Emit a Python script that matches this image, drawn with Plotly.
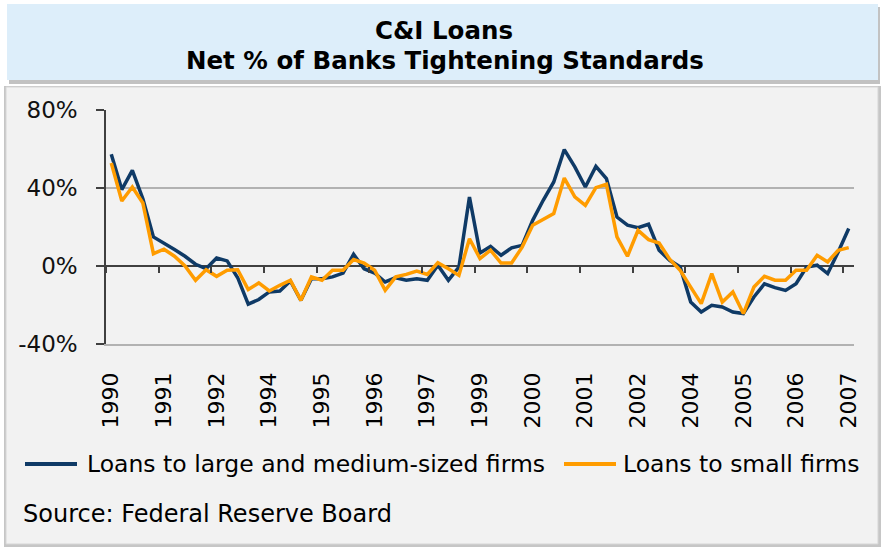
import plotly.graph_objects as go

# ---- data (quarterly survey readings, net % tightening) ----
large_firms = [57.3, 39.2, 49.0, 34.5, 14.9, 11.8, 8.4, 5.0, 0.9, -1.4,
               4.1, 2.6, -6.0, -19.6, -17.2, -13.3, -12.8, -7.7, -17.6, -6.5,
               -6.5, -5.6, -3.6, 6.0, -1.4, -3.6, -8.2, -6.0, -7.3, -6.5,
               -7.3, 0.4, -7.3, -0.5, 35.4, 6.7, 10.0, 5.5, 9.3, 10.6,
               23.4, 33.7, 43.1, 59.7, 50.8, 40.5, 51.1, 44.8, 25.1, 20.9,
               19.7, 21.4, 8.1, 2.9, -0.5, -18.5, -23.6, -20.2, -21.0, -23.6,
               -24.4, -15.9, -9.1, -11.1, -12.5, -9.1, -0.5, 0.4, -3.9, 7.2,
               19.2]
small_firms = [52.8, 33.3, 40.5, 32.3, 6.3, 8.6, 5.0, 0.0, -7.3, -1.9,
               -5.3, -2.2, -1.9, -12.1, -8.7, -12.8, -9.9, -7.3, -17.6, -5.6,
               -7.3, -2.2, -2.2, 3.3, 1.5, -2.2, -12.5, -5.6, -4.3, -2.6,
               -4.3, 1.7, -1.4, -4.8, 14.0, 3.8, 8.1, 1.5, 1.5, 9.7,
               20.9, 23.8, 26.9, 45.1, 35.4, 31.1, 40.2, 41.9, 14.9, 5.0,
               18.3, 13.5, 11.8, 3.5, -2.2, -10.8, -19.3, -3.9, -18.5, -13.3,
               -24.4, -10.8, -5.3, -7.3, -7.3, -2.2, -2.2, 5.5, 2.1, 8.1,
               9.4]
periods = list(range(len(large_firms)))
tick_labels = ["1990", "1991", "1992", "1994", "1995", "1996", "1997", "1999",
               "2000", "2001", "2002", "2004", "2005", "2006", "2007"]
label_every = 5
y_ticks = [-40, 0, 40, 80]
y_tick_text = ["-40%", "0%", "40%", "80%"]
series_names = ["Loans to large and medium-sized firms", "Loans to small firms"]
title_lines = ["C&I Loans", "Net % of Banks Tightening Standards"]
source_text = "Source: Federal Reserve Board"

# ---- geometry helpers (pixel -> paper) ----
W, H = 885, 548
L, R, T, B = 106, 31, 110, 204
PW, PH = W - L - R, H - T - B


def fx(px):
    return (px - L) / PW


def fy(py):
    return (H - B - py) / PH


FONT = "DejaVu Sans"
BLUE = "#0f3a66"
ORANGE = "#ff9c00"
AXIS = "#404040"
GRID = "#b2b2b2"
colors = [BLUE, ORANGE]

fig = go.Figure()
for name, vals, col in zip(series_names, [large_firms, small_firms], colors):
    fig.add_trace(go.Scatter(x=periods, y=vals, mode="lines", name=name,
                             line=dict(color=col, width=3.5), showlegend=False))
# helper trace so the tick axis at the zero line is rendered
fig.add_trace(go.Scatter(x=periods, y=[None] * len(periods), xaxis="x2", mode="lines",
                         showlegend=False, hoverinfo="skip"))

label_pos = list(range(0, len(periods), label_every))
boundary_pos = [p - 0.5 for p in label_pos]

shapes = [
    # title box shadow + box
    dict(type="rect", xref="paper", yref="paper", x0=fx(9), x1=fx(880), y0=fy(84), y1=fy(7),
         fillcolor="#9a9a9a", line=dict(width=0), layer="below", opacity=0.6),
    dict(type="rect", xref="paper", yref="paper", x0=fx(7), x1=fx(878), y0=fy(80), y1=fy(4),
         fillcolor="#ddeefa", line=dict(width=0), layer="below"),
    # chart frame shadow + frame
    dict(type="rect", xref="paper", yref="paper", x0=fx(4), x1=fx(881), y0=fy(547), y1=fy(86),
         fillcolor="#a0a0a0", line=dict(width=0), layer="below", opacity=0.6),
    dict(type="rect", xref="paper", yref="paper", x0=fx(6), x1=fx(878), y0=fy(544), y1=fy(87),
         fillcolor="#f2f2f2", line=dict(color="#d6d6d6", width=1), layer="below"),
]

annotations = [
    dict(text="<b>%s</b>" % title_lines[0], xref="paper", yref="paper", x=fx(444), y=fy(30),
         xanchor="center", yanchor="middle", showarrow=False,
         font=dict(family=FONT, size=24.5, color="#000")),
    dict(text="<b>%s</b>" % title_lines[1], xref="paper", yref="paper", x=fx(445), y=fy(60),
         xanchor="center", yanchor="middle", showarrow=False,
         font=dict(family=FONT, size=24.5, color="#000")),
    dict(text=source_text, xref="paper", yref="paper", x=fx(21), y=fy(514),
         xanchor="left", yanchor="middle", showarrow=False,
         font=dict(family=FONT, size=24, color="#000")),
]

# legend drawn as key lines + text labels
legend_keys = [(25, 77, 85), (564, 616, 621)]
for (k0, k1, tx), name, col in zip(legend_keys, series_names, colors):
    shapes.append(dict(type="line", xref="paper", yref="paper", x0=fx(k0), x1=fx(k1),
                       y0=fy(464), y1=fy(464), line=dict(color=col, width=4)))
    annotations.append(dict(text=name, xref="paper", yref="paper", x=fx(tx), y=fy(464),
                            xanchor="left", yanchor="middle", showarrow=False,
                            font=dict(family=FONT, size=23.5, color="#000")))

fig.update_layout(
    width=W, height=H,
    margin=dict(l=L, r=R, t=T, b=B, autoexpand=False),
    paper_bgcolor="white",
    plot_bgcolor="rgba(0,0,0,0)",
    shapes=shapes,
    annotations=annotations,
    showlegend=False,
    xaxis=dict(range=[-0.5, len(periods) - 0.5], tickmode="array", tickvals=label_pos,
               ticktext=tick_labels, tickangle=-90, ticks="", showgrid=False,
               zeroline=False, showline=True, linecolor=GRID, linewidth=1.5,
               ticklabelstandoff=18,
               tickfont=dict(family=FONT, size=22, color="#000")),
    xaxis2=dict(range=[-0.5, len(periods) - 0.5], overlaying="x", anchor="free",
                position=(0 - y_ticks[0]) / (y_ticks[-1] - y_ticks[0]),
                tickmode="array", tickvals=boundary_pos, ticks="outside", ticklen=6,
                tickwidth=1.5, tickcolor=AXIS, showticklabels=False, showgrid=False,
                zeroline=False, showline=False),
    yaxis=dict(range=[y_ticks[0], y_ticks[-1]], domain=[0, 1], tickmode="array",
               tickvals=y_ticks, ticktext=y_tick_text, ticks="outside", ticklen=8,
               tickwidth=1.5, tickcolor=AXIS, showline=True, linecolor=AXIS, linewidth=1.5,
               showgrid=True, gridcolor=GRID, gridwidth=1.5,
               zeroline=True, zerolinecolor=AXIS, zerolinewidth=1.5,
               ticklabelstandoff=14,
               tickfont=dict(family=FONT, size=23, color="#111")),
)

fig.write_html("out.html")
